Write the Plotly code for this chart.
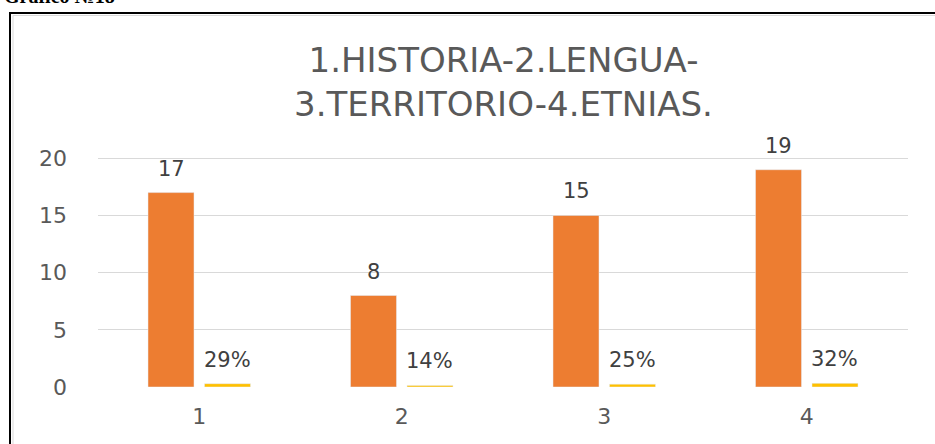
import plotly.graph_objects as go

categories = ["1", "2", "3", "4"]
counts = [17, 8, 15, 19]
shares = [0.29, 0.14, 0.25, 0.32]
count_labels = ["17", "8", "15", "19"]
share_labels = ["29%", "14%", "25%", "32%"]
title_lines = ["1.HISTORIA-2.LENGUA-", "3.TERRITORIO-4.ETNIAS."]
y_ticks = [0, 5, 10, 15, 20]

W, H = 935, 444
ML, MR, MT, MB = 98, 27, 156, 57
PW, PH = W - ML - MR, H - MT - MB

def px_x(p):
    return (p - ML) / PW

def px_y(p):
    return (H - MB - p) / PH

FONT = "DejaVu Sans"

fig = go.Figure()
fig.add_trace(go.Bar(x=categories, y=counts, marker=dict(color="#ED7D31"), name="n"))
fig.add_trace(go.Bar(x=categories, y=shares, marker=dict(color="#FFC000"), name="%"))

annotations = []
for i, (v, t) in enumerate(zip(counts, count_labels)):
    annotations.append(dict(x=i, y=v, text=t, xref="x", yref="y", showarrow=False,
                            xshift=-28, yshift=10, yanchor="bottom",
                            font=dict(family=FONT, size=21, color="#404040")))
for i, (v, t) in enumerate(zip(shares, share_labels)):
    annotations.append(dict(x=i, y=v, text=t, xref="x", yref="y", showarrow=False,
                            xshift=28, yshift=10, yanchor="bottom",
                            font=dict(family=FONT, size=21, color="#404040")))
# title
annotations.append(dict(x=0.5, y=px_y(82), xref="paper", yref="paper", showarrow=False,
                        text="<br>".join(title_lines), align="center", yanchor="middle",
                        font=dict(family=FONT, size=34, color="#595959")))
# clipped caption above the chart
annotations.append(dict(x=px_x(117), y=px_y(9), xref="paper", yref="paper", showarrow=False,
                        text="<b>Gráfico №18</b>", xanchor="right", yanchor="bottom",
                        font=dict(family="Liberation Serif", size=20, color="#000000")))

shapes = [
    dict(type="rect", xref="paper", yref="paper",
         x0=px_x(13), x1=px_x(960), y0=px_y(470), y1=px_y(15.5),
         line=dict(color="#D9D9D9", width=1), fillcolor="rgba(0,0,0,0)", layer="below"),
    dict(type="rect", xref="paper", yref="paper",
         x0=px_x(10), x1=px_x(960), y0=px_y(470), y1=px_y(13),
         line=dict(color="#000000", width=2), fillcolor="rgba(0,0,0,0)", layer="above"),
]

fig.update_layout(
    width=W, height=H,
    margin=dict(l=ML, r=MR, t=MT, b=MB, pad=0),
    paper_bgcolor="white", plot_bgcolor="white",
    showlegend=False,
    barmode="group", bargap=0.442, bargroupgap=0.186,
    annotations=annotations, shapes=shapes,
    xaxis=dict(type="category", showgrid=False, showline=False, zeroline=False,
               ticks="", ticklabelstandoff=14,
               tickfont=dict(family=FONT, size=22, color="#595959")),
    yaxis=dict(range=[0, 20.2], tickvals=y_ticks, showgrid=True, gridcolor="#D9D9D9",
               gridwidth=1, zeroline=False, showline=False, ticks="",
               ticklabelstandoff=30,
               tickfont=dict(family=FONT, size=22, color="#595959")),
)

fig.write_html("out.html", config={"displayModeBar": False},
               post_script="document.body.style.margin='0';document.body.style.overflow='hidden';")
